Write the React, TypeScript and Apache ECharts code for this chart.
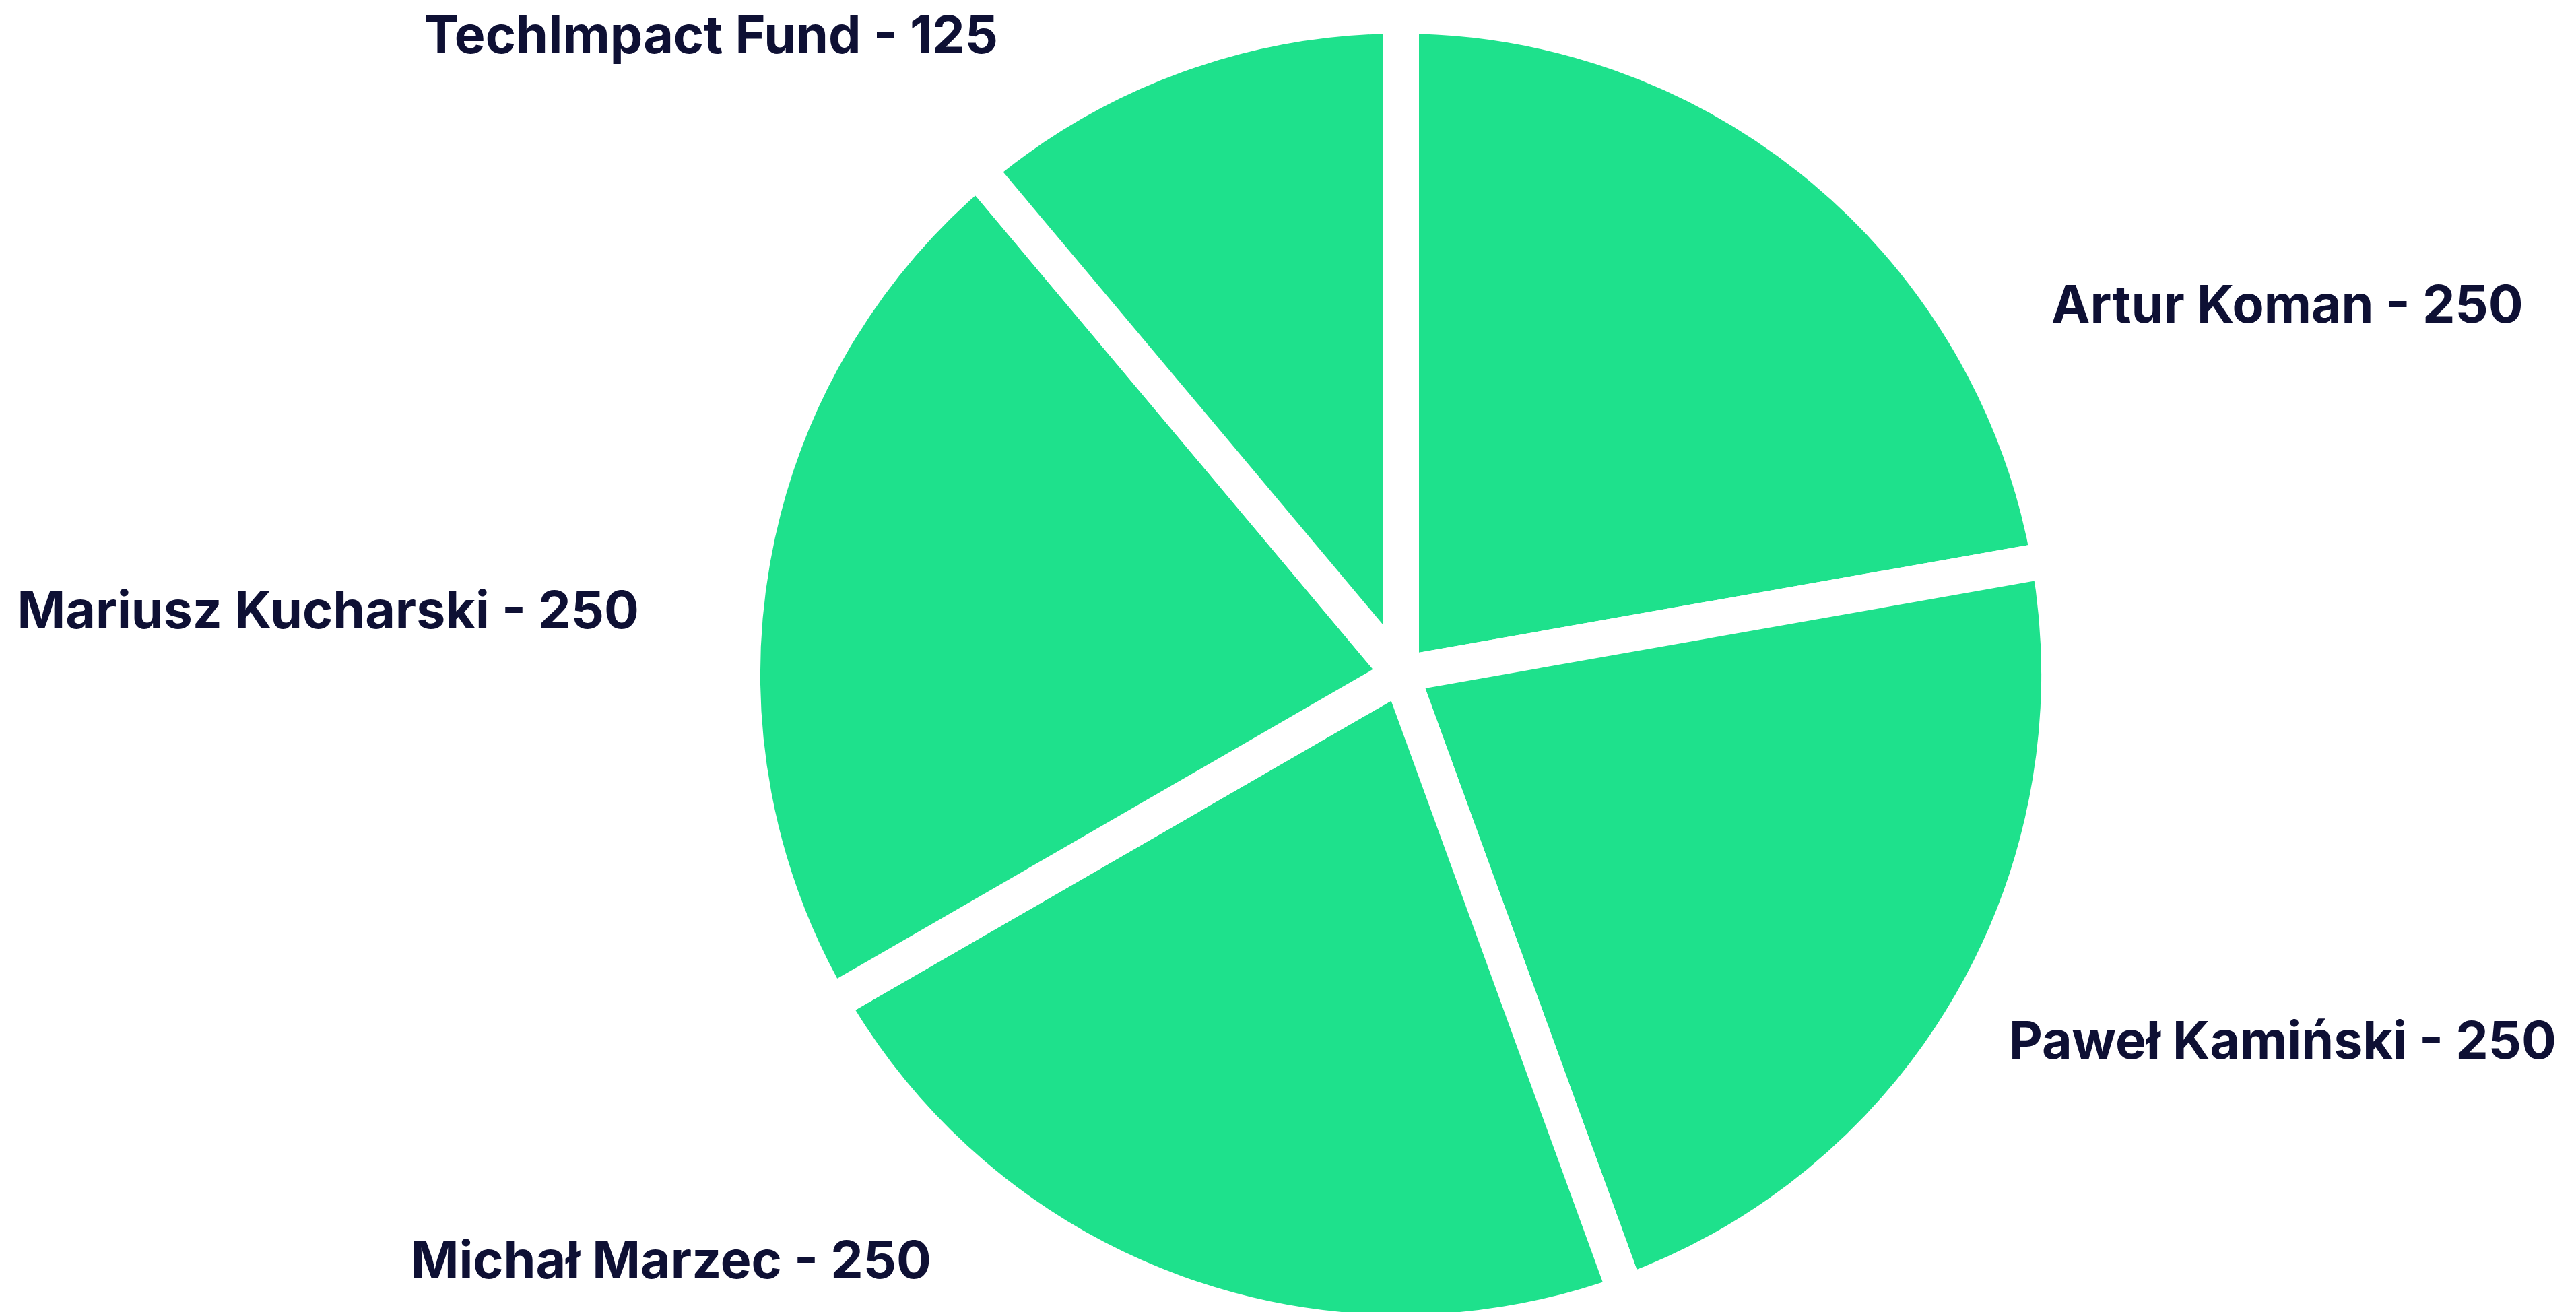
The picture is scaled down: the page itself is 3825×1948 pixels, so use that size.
import React, { useEffect, useRef } from "react";
import * as echarts from "echarts";

const names = ["Artur Koman", "Paweł Kamiński", "Michał Marzec", "Mariusz Kucharski", "TechImpact Fund"];
const values = [250, 250, 250, 250, 125];

// label anchor points (layout only): [x, y, align]
const labelAnchors: [number, number, string][] = [
  [3046, 451, "left"],
  [2983, 1544, "left"],
  [1383, 1870, "right"],
  [949, 905, "right"],
  [1482, 51, "right"],
];

export default function App() {
  const ref = useRef<HTMLDivElement>(null);
  useEffect(() => {
    if (!ref.current) return;
    const chart = echarts.init(ref.current, undefined, { renderer: "svg" });
    chart.setOption({
      animation: false,
      backgroundColor: "#ffffff",
      series: [
        {
          type: "pie",
          center: [2080, 1001],
          radius: 978,
          startAngle: 90,
          clockwise: true,
          avoidLabelOverlap: false,
          silent: true,
          data: names.map((n, i) => ({ name: n, value: values[i] })),
          itemStyle: {
            color: "#1ee18c",
            borderColor: "#ffffff",
            borderWidth: 54,
            borderJoin: "miter",
            borderMiterLimit: 20,
          },
          label: {
            show: true,
            position: "outside",
            formatter: "{b} - {c}",
            fontFamily: "Inter",
            fontWeight: 700,
            fontSize: 77,
            color: "#0e1034",
          },
          labelLine: { show: false },
          labelLayout: (p: any) => {
            const a = labelAnchors[p.dataIndex];
            return { x: a[0], y: a[1], align: a[2], verticalAlign: "middle" };
          },
        },
      ],
    });
    return () => chart.dispose();
  }, []);
  return (
    <div
      ref={ref}
      style={{ position: "absolute", left: 0, top: 0, width: 3825, height: 1948 }}
    />
  );
}
